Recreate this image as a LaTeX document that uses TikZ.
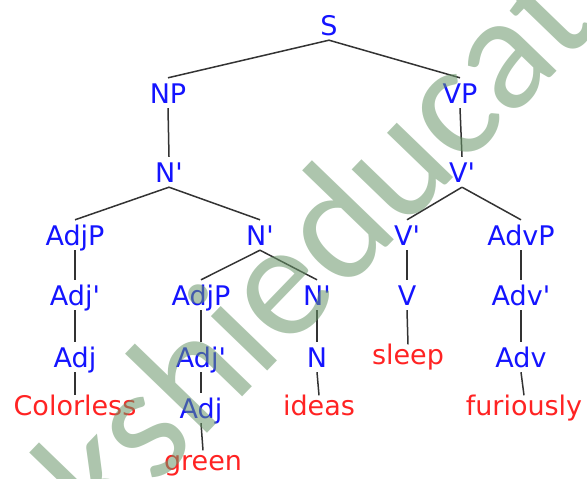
\documentclass[tikz,border=0pt]{standalone}
\usepackage{fontspec}
\setmainfont{DejaVu Sans}
\newfontfamily\markfont{Carlito}
\definecolor{catblue}{RGB}{20,20,255}
\definecolor{wordred}{RGB}{255,35,35}
\definecolor{markgreen}{RGB}{105,150,105}
% straight prime for bar levels
\newcommand\barlvl{\textquotesingle}

\begin{document}
\begin{tikzpicture}[x=1pt,y=-1pt,
  lbl/.style={font=\fontsize{27}{27}\selectfont, inner sep=0pt,
              text height=25pt, text depth=5pt},
  cat/.style={lbl, text=catblue},
  leaf/.style={lbl, text=wordred, text height=20pt},
  edge/.style={draw=black!80, line width=1.5pt},
  wmark/.style={font=\markfont\fontsize{164}{164}\selectfont, text=markgreen,
                text opacity=0.55, inner sep=0pt, rotate=46, anchor=base west}]

\useasboundingbox (0,0) rectangle (587,479);
\clip (0,0) rectangle (587,479);

% categories
\node[cat] (S)     at (329,25)  {S};
\node[cat] (NP)    at (168,93)  {NP};
\node[cat] (VP)    at (460,93)  {VP};
\node[cat] (Nb1)   at (169,172) {N\barlvl};
\node[cat] (Vb1)   at (462,172) {V\barlvl};
\node[cat] (AdjP1) at (75,235)  {AdjP};
\node[cat] (Nb2)   at (260,235) {N\barlvl};
\node[cat] (Vb2)   at (407,235) {V\barlvl};
\node[cat] (AdvP)  at (521,235) {AdvP};
\node[cat] (Adjb1) at (75,295)  {Adj\barlvl};
\node[cat] (AdjP2) at (201,295) {AdjP};
\node[cat] (Nb3)   at (317,295) {N\barlvl};
\node[cat] (V)     at (407,295) {V};
\node[cat] (Advb)  at (521,295) {Adv\barlvl};
\node[cat] (Adj1)  at (75,357)  {Adj};
\node[cat] (Adjb2) at (201,357) {Adj\barlvl};
\node[cat] (N)     at (317,357) {N};
\node[cat] (Adv)   at (521,357) {Adv};
\node[cat] (Adj2)  at (201,408) {Adj};

% words
\node[leaf] (colorless) at (75,408)  {Colorless};
\node[leaf] (green)     at (203,463) {green};
\node[leaf] (ideas)     at (319,408) {ideas};
\node[leaf] (sleep)     at (408,357) {sleep};
\node[leaf] (furiously) at (524,408) {furiously};

% branches
\draw[edge] (S.south) -- (NP.north);
\draw[edge] (S.south) -- (VP.north);
\draw[edge] (NP.south) -- (Nb1.north);
\draw[edge] (Nb1.south) -- (AdjP1.north);
\draw[edge] (Nb1.south) -- (Nb2.north);
\draw[edge] (AdjP1.south) -- (Adjb1.north);
\draw[edge] (Adjb1.south) -- (Adj1.north);
\draw[edge] (Adj1.south) -- (colorless.north);
\draw[edge] (Nb2.south) -- (AdjP2.north);
\draw[edge] (Nb2.south) -- (Nb3.north);
\draw[edge] (AdjP2.south) -- (Adjb2.north);
\draw[edge] (Adjb2.south) -- (Adj2.north);
\draw[edge] (Adj2.south) -- (green.north);
\draw[edge] (Nb3.south) -- (N.north);
\draw[edge] (N.south) -- (ideas.north);
\draw[edge] (VP.south) -- (Vb1.north);
\draw[edge] (Vb1.south) -- (Vb2.north);
\draw[edge] (Vb1.south) -- (AdvP.north);
\draw[edge] (Vb2.south) -- (V.north);
\draw[edge] (V.south) -- (sleep.north);
\draw[edge] (AdvP.south) -- (Advb.north);
\draw[edge] (Advb.south) -- (Adv.north);
\draw[edge] (Adv.south) -- (furiously.north);

% diagonal site mark
\node[wmark] (mark) at (104,540) {kshieducation};
\end{tikzpicture}
\end{document}
